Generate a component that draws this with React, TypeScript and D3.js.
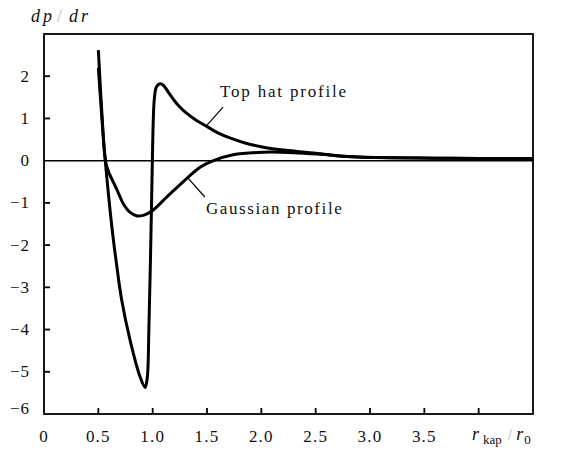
import React from "react";
import * as d3 from "d3";

const topHatX = [0.5, 0.546, 0.562, 0.626, 0.67, 0.715, 0.792, 0.884, 0.93, 0.95, 0.965, 0.98, 0.995, 1.005, 1.015, 1.035, 1.068, 1.1, 1.15, 1.2, 1.25, 1.3, 1.4, 1.48, 1.6, 1.71, 1.85, 2.02, 2.25, 2.48, 2.79, 3.2, 3.6, 4.0, 4.5];
const topHatY = [2.62, 0.55, 0.05, -1.6, -2.5, -3.3, -4.25, -5.12, -5.37, -5.15, -4.0, -2.3, -0.3, 0.9, 1.45, 1.75, 1.82, 1.78, 1.6, 1.42, 1.27, 1.15, 0.96, 0.84, 0.66, 0.54, 0.42, 0.32, 0.24, 0.18, 0.1, 0.07, 0.06, 0.05, 0.05];

const gaussX = [0.5, 0.54, 0.56, 0.575, 0.6, 0.64, 0.672, 0.73, 0.79, 0.856, 0.92, 0.99, 1.13, 1.28, 1.44, 1.56, 1.74, 2.02, 2.3, 2.55, 2.79, 3.2, 3.6, 4.0, 4.5];
const gaussY = [2.2, 0.75, 0.12, -0.12, -0.3, -0.52, -0.69, -1.02, -1.22, -1.31, -1.29, -1.2, -0.86, -0.5, -0.15, 0.0, 0.14, 0.2, 0.19, 0.15, 0.1, 0.07, 0.06, 0.05, 0.05];

const xTicks = [0.5, 1.0, 1.5, 2.0, 2.5, 3.0, 3.5, 4.0];
const xTickLabels = ["0", "0.5", "1.0", "1.5", "2.0", "2.5", "3.0", "3.5"];
const xTickLabelValues = [0, 0.5, 1.0, 1.5, 2.0, 2.5, 3.0, 3.5];
const yTicks = [-5, -4, -3, -2, -1, 1, 2];
const yTickLabelValues = [2, 1, 0, -1, -2, -3, -4, -5, -6];

const W = 582;
const H = 452;
const left = 44;
const right = 533;
const top = 34;
const bottom = 414;

const FONT = "'Liberation Serif', 'DejaVu Serif', serif";

export default function App() {
  const x = d3.scaleLinear().domain([0, 4.5]).range([left, right]);
  const y = d3.scaleLinear().domain([-6, 3]).range([bottom, top]);

  const line = d3
    .line<[number, number]>()
    .x((d) => x(d[0]))
    .y((d) => y(d[1]))
    .curve(d3.curveCatmullRom.alpha(0.5));

  const topHat = topHatX.map((v, i) => [v, topHatY[i]] as [number, number]);
  const gauss = gaussX.map((v, i) => [v, gaussY[i]] as [number, number]);

  const fmt = (v: number) => (v < 0 ? "\u2212" + Math.abs(v) : String(v));

  return (
    <svg
      width={W}
      height={H}
      style={{ position: "absolute", left: 0, top: 0, background: "#fff" }}
      fontFamily={FONT}
    >
      {/* zero line */}
      <line x1={x(0)} x2={x(4.5)} y1={y(0)} y2={y(0)} stroke="#000" strokeWidth={1.5} />

      {/* curves */}
      <path d={line(gauss) || ""} fill="none" stroke="#000" strokeWidth={3} strokeLinejoin="round" />
      <path d={line(topHat) || ""} fill="none" stroke="#000" strokeWidth={3} strokeLinejoin="round" />

      {/* frame */}
      <rect x={left} y={top} width={right - left} height={bottom - top} fill="none" stroke="#000" strokeWidth={1.8} />

      {/* x ticks */}
      {xTicks.map((t) => (
        <line key={"xt" + t} x1={x(t)} x2={x(t)} y1={bottom} y2={bottom - 6} stroke="#000" strokeWidth={1.8} />
      ))}
      {/* y ticks */}
      {yTicks.map((t) => (
        <line key={"yt" + t} x1={left} x2={left + 6} y1={y(t)} y2={y(t)} stroke="#000" strokeWidth={1.8} />
      ))}

      {/* x tick labels */}
      {xTickLabelValues.map((v, i) => (
        <text
          key={"xl" + v}
          x={x(v)}
          y={442}
          textAnchor="middle"
          fontSize={17}
          letterSpacing={1.2}
          fill="#111"
        >
          {xTickLabels[i]}
        </text>
      ))}

      {/* y tick labels */}
      {yTickLabelValues.map((v) => (
        <text
          key={"yl" + v}
          x={30}
          y={Math.min(y(v), 408)}
          textAnchor="end"
          dominantBaseline="central"
          fontSize={17}
          letterSpacing={1}
          fill="#111"
        >
          {fmt(v)}
        </text>
      ))}

      {/* y axis title */}
      <text x={31} y={22} fontSize={18} fontStyle="italic" letterSpacing={3} fill="#111">
        dp
        <tspan fill="#bbb" fontStyle="normal" dx={2}>/</tspan>
        <tspan dx={4}>dr</tspan>
      </text>

      {/* x axis title */}
      <text x={472} y={440} fontSize={18} fontStyle="italic" fill="#111">
        r
        <tspan fontSize={13} fontStyle="normal" dx={4} dy={4}>kap</tspan>
        <tspan fill="#bbb" fontStyle="normal" fontSize={16} dx={6} dy={-4}>/</tspan>
        <tspan dx={4}>r</tspan>
        <tspan fontSize={13} fontStyle="normal" dx={1} dy={4}>0</tspan>
      </text>

      {/* annotations */}
      <line x1={x(1.648)} y1={y(1.27)} x2={x(1.5)} y2={y(0.84)} stroke="#000" strokeWidth={1.2} />
      <text x={x(1.62)} y={y(1.51)} fontSize={17} letterSpacing={1.8} fill="#111">
        Top hat profile
      </text>
      <line x1={x(1.317)} y1={y(-0.39)} x2={x(1.48)} y2={y(-0.86)} stroke="#000" strokeWidth={1.2} />
      <text x={x(1.49)} y={y(-1.26)} fontSize={17} letterSpacing={1.6} fill="#111">
        Gaussian profile
      </text>
    </svg>
  );
}
